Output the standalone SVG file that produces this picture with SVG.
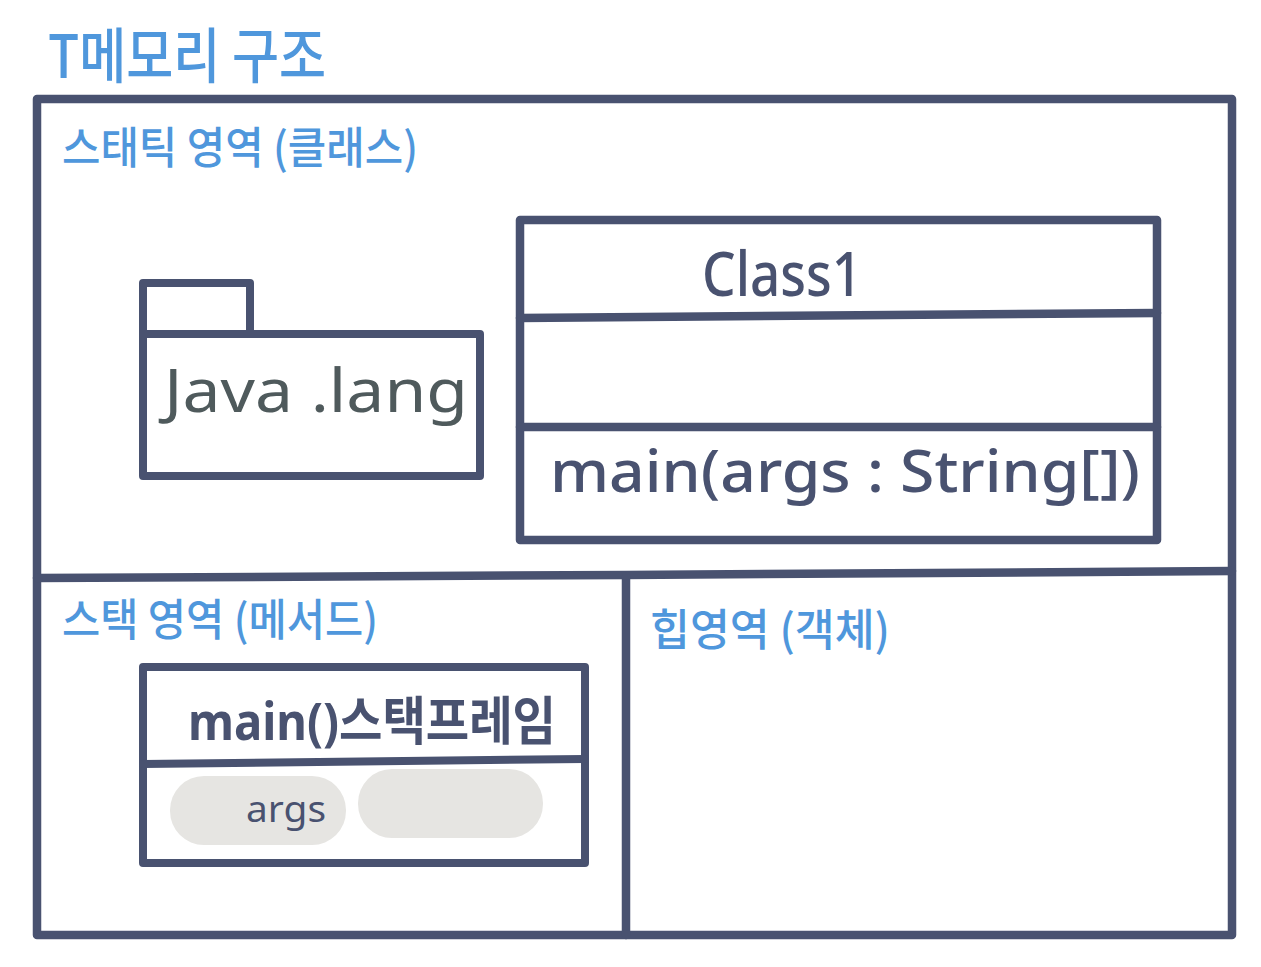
<svg xmlns="http://www.w3.org/2000/svg" width="1261" height="967" viewBox="0 0 1261 967">
<style>
.l{fill:none;stroke:#495270;stroke-linecap:round;stroke-linejoin:round}
.w{stroke-width:8.5}
.m{stroke-width:8}
.b{font-family:"Noto Sans CJK KR","Noto Sans",sans-serif;fill:#4f97dc;font-weight:500}
.d{font-family:"Noto Sans","Noto Sans CJK KR",sans-serif;fill:#495270}
.p{fill:#e6e5e2}
</style>
<rect width="1261" height="967" fill="#fff"/>
<g id="connectors">
<path class="l w" d="M37 99H1232V935H37Z"/>
<path class="l w" d="M37 578L626 575L1232 571"/>
<path class="l w" d="M626 577V935"/>
</g>
<text class="b" x="48" y="78" font-size="60" textLength="278" lengthAdjust="spacingAndGlyphs">T메모리 구조</text>
<g id="static-area"><text class="b" x="62" y="164" font-size="44" textLength="356" lengthAdjust="spacingAndGlyphs">스태틱 영역 (클래스)</text></g>
<g id="java-lang">
<path class="l m" d="M143 334V283H250V334M143 334H480V476H143Z"/>
<text x="164" y="412" font-family="Noto Sans,sans-serif" font-size="60" fill="#4f5a5c" textLength="304" lengthAdjust="spacingAndGlyphs">Java .lang</text>
</g>
<g id="class1">
<path class="l w" d="M520 220H1157V540H520Z"/>
<path class="l w" d="M520 318L1157 313M520 427H1157"/>
<text class="d" x="702" y="296" font-size="62" font-weight="500" textLength="160" lengthAdjust="spacingAndGlyphs">Class1</text>
<text class="d" x="550" y="492" font-size="58" font-weight="500" textLength="590" lengthAdjust="spacingAndGlyphs">main(args : String[])</text>
</g>
<g id="stack-area"><text class="b" x="62" y="636" font-size="44" textLength="316" lengthAdjust="spacingAndGlyphs">스택 영역 (메서드)</text></g>
<g id="heap-area"><text class="b" x="650" y="646" font-size="44" textLength="240" lengthAdjust="spacingAndGlyphs">힙영역 (객체)</text></g>
<g id="main-frame">
<path class="l m" d="M143 667H585V863H143Z"/>
<path class="l m" d="M143 764L585 759"/>
<text class="d" x="188" y="740" font-size="52" font-weight="700" textLength="368" lengthAdjust="spacingAndGlyphs">main()스택프레임</text>
</g>
<g id="args">
<rect class="p" x="170" y="776" width="176" height="69" rx="34"/>
<text class="d" x="246" y="822" font-size="36" textLength="80" lengthAdjust="spacingAndGlyphs">args</text>
</g>
<g id="empty-slot"><rect class="p" x="358" y="769" width="185" height="69" rx="34"/></g>
</svg>
